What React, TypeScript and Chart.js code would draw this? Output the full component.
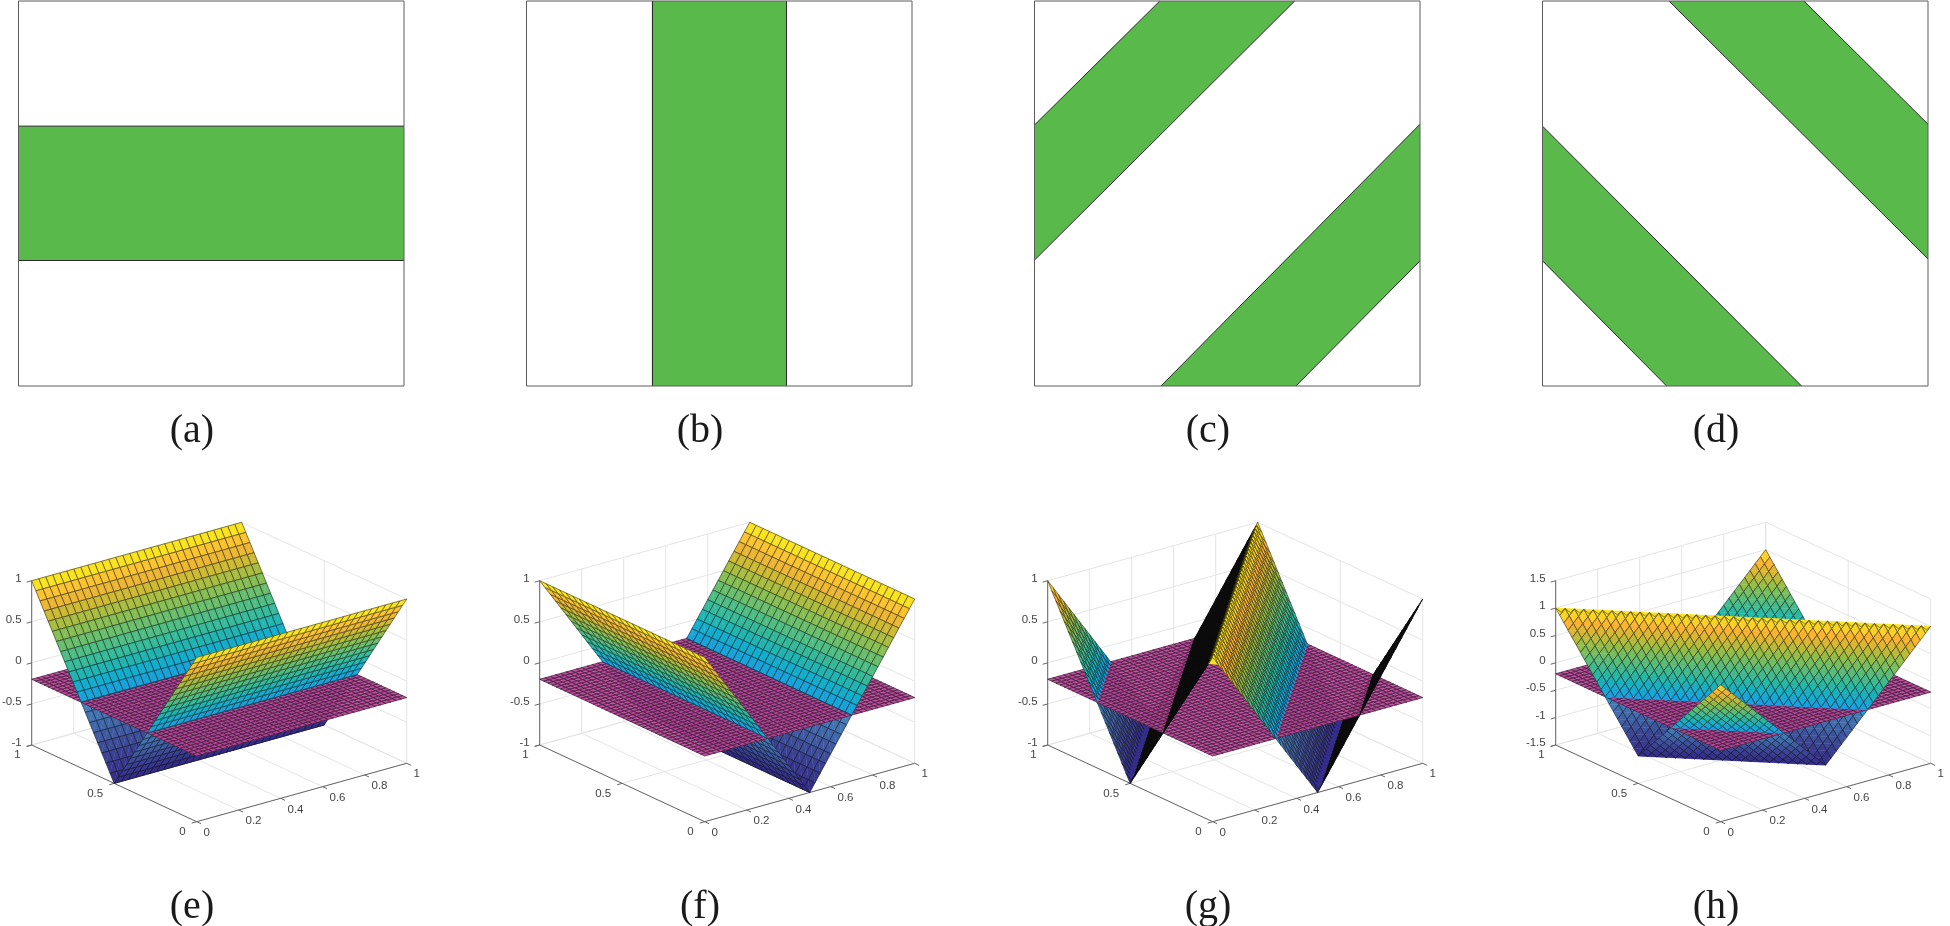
import React, { useEffect, useRef } from "react";
import { Chart, registerables, ScatterController } from "chart.js";

Chart.register(...registerables);

// ---------- data ----------
const panelNamesTop = ["(a)", "(b)", "(c)", "(d)"];
const panelNamesBottom = ["(e)", "(f)", "(g)", "(h)"];

// Green bands of the top row, as corner lists in unit-square coordinates
const bandsA = [[[0, 0.326], [1, 0.326], [1, 0.675], [0, 0.675]]];
const bandsB = [[[0.3268, 0], [0.6744, 0], [0.6744, 1], [0.3268, 1]]];
const bandsC = [
  [[0, 0.327], [0.675, 1], [0.325, 1], [0, 0.678]],
  [[0.328, 0], [0.678, 0], [1, 0.325], [1, 0.68]],
];
const bandsD = [
  [[0, 0.325], [0.322, 0], [0.672, 0], [0, 0.675]],
  [[0.328, 1], [0.678, 1], [1, 0.68], [1, 0.33]],
];

// Meshes of the surfaces in the bottom row
const meshFine = [
  0, 0.025, 0.05, 0.075, 0.1, 0.125, 0.15, 0.175, 0.2, 0.225, 0.25, 0.275, 0.3, 0.325, 0.35, 0.375, 0.4, 0.425, 0.45, 0.475,
  0.5, 0.525, 0.55, 0.575, 0.6, 0.625, 0.65, 0.675, 0.7, 0.725, 0.75, 0.775, 0.8, 0.825, 0.85, 0.875, 0.9, 0.925, 0.95, 0.975, 1,
];
const meshCoarseE = [
  0, 0.0333, 0.0667, 0.1, 0.1333, 0.1667, 0.2, 0.2333, 0.2667, 0.3, 0.3333, 0.3667, 0.4, 0.4333, 0.4667, 0.5,
  0.5333, 0.5667, 0.6, 0.6333, 0.6667, 0.7, 0.7333, 0.7667, 0.8, 0.8333, 0.8667, 0.9, 0.9333, 0.9667, 1,
];
const meshCoarseF = [
  0, 0.04, 0.08, 0.12, 0.16, 0.2, 0.24, 0.28, 0.32, 0.36, 0.4, 0.44, 0.48, 0.52, 0.56, 0.6, 0.64, 0.68, 0.72, 0.76, 0.8, 0.84, 0.88, 0.92, 0.96, 1,
];
// Height along one fold of the surfaces: ridge, valley, ridge
const foldProfile = [
  1, 0.9, 0.8, 0.7, 0.6, 0.5, 0.4, 0.3, 0.2, 0.1, 0, -0.1, -0.2, -0.3, -0.4, -0.5, -0.6, -0.7, -0.8, -0.9,
  -1, -0.9, -0.8, -0.7, -0.6, -0.5, -0.4, -0.3, -0.2, -0.1, 0, 0.1, 0.2, 0.3, 0.4, 0.5, 0.6, 0.7, 0.8, 0.9, 1,
];
const cutLevel = -0.2;

const xTicks = [0, 0.2, 0.4, 0.6, 0.8, 1];
const xTickLabels = ["0", "0.2", "0.4", "0.6", "0.8", "1"];
const yTicks = [0, 0.5, 1];
const yTickLabels = ["0", "0.5", "1"];
const zTicks = [-1, -0.5, 0, 0.5, 1];
const zTickLabels = ["-1", "-0.5", "0", "0.5", "1"];
const zTicksWide = [-1.5, -1, -0.5, 0, 0.5, 1, 1.5];
const zTickLabelsWide = ["-1.5", "-1", "-0.5", "0", "0.5", "1", "1.5"];

// Colour map of the surfaces
const colorLevels = [-1, -0.7, -0.4, -0.21, -0.2, -0.05, 0.1, 0.3, 0.5, 0.65, 0.8, 0.9, 1];
const colorValues = [
  [50, 40, 135], [60, 70, 150], [65, 110, 175], [70, 130, 190], [25, 160, 225], [20, 175, 205], [40, 185, 165],
  [90, 190, 120], [150, 190, 70], [205, 185, 50], [252, 180, 50], [250, 210, 40], [250, 245, 20],
];
const planeColor = "rgb(185,70,155)";
const green = "#59ba4b";

// ---------- view of the 3D box, in canvas px of a bottom cell ----------
const cellStep = 508;
const cellHeight = 463;
const viewOrigin = [196.7, 358.7];
const viewX = [210, -58.4];
const viewY = [-165, -76.7];
const viewZ = 164.3;

function project(x: number, y: number, z: number, zMin: number, zMax: number) {
  const t = (z - zMin) / (zMax - zMin);
  return {
    x: viewOrigin[0] + x * viewX[0] + y * viewY[0],
    y: viewOrigin[1] + x * viewX[1] + y * viewY[1] - t * viewZ,
    w: z,
  };
}

function colorFor(z: number) {
  let k = 0;
  while (k < colorLevels.length - 2 && z > colorLevels[k + 1]) k++;
  const f = Math.max(0, Math.min(1, (z - colorLevels[k]) / (colorLevels[k + 1] - colorLevels[k])));
  const c = colorValues[k].map((v, n) => Math.round(v + (colorValues[k + 1][n] - v) * f));
  return `rgb(${c[0]},${c[1]},${c[2]})`;
}

const meshesX = [meshCoarseE, meshFine, meshFine, meshFine];
const meshesY = [meshFine, meshCoarseF, meshFine, meshFine];
const foldLookups: ((i: number, j: number) => number)[] = [
  (_i, j) => foldProfile[j],
  (i) => foldProfile[i],
  (i, j) => foldProfile[Math.abs(i - j)],
  (i, j) => foldProfile[i + j > 40 ? i + j - 40 : i + j],
];

// ---------- a dataset type that paints a mesh from its scale-positioned points ----------
type V = { x: number; y: number; w: number; noEdge?: boolean };
function clipPoly(p: V[], keepBelow: boolean) {
  const out: V[] = [];
  const inside = (v: V) => (keepBelow ? v.w <= cutLevel : v.w >= cutLevel);
  for (let n = 0; n < p.length; n++) {
    const a = p[n];
    const b = p[(n + 1) % p.length];
    const ia = inside(a);
    const ib = inside(b);
    if (ia) out.push(a);
    if (ia !== ib) {
      const t = (cutLevel - a.w) / (b.w - a.w);
      out.push({ x: a.x + (b.x - a.x) * t, y: a.y + (b.y - a.y) * t, w: cutLevel, noEdge: ia ? true : a.noEdge });
    }
  }
  return out;
}

class SurfaceController extends (ScatterController as any) {
  static id = "surface";
  static defaults = { ...(ScatterController as any).defaults };
  static overrides = (ScatterController as any).overrides;
  draw() {
    const self = this as any;
    const ds = self.getDataset();
    const meta = self._cachedMeta;
    const ctx: CanvasRenderingContext2D = self.chart.ctx;
    const nx = ds.countX;
    const ny = ds.countY;
    const at = (i: number, j: number): V => {
      const k = i * ny + j;
      return { x: meta.data[k].x, y: meta.data[k].y, w: ds.data[k].w };
    };
    const flag = (v: V, noEdge: boolean): V => ({ x: v.x, y: v.y, w: v.w, noEdge });
    ctx.save();
    for (let i = nx - 2; i >= 0; i--) {
      for (let j = ny - 2; j >= 0; j--) {
        const A = at(i, j);
        const B = at(i + 1, j);
        const C = at(i + 1, j + 1);
        const D = at(i, j + 1);
        const mean = (A.w + B.w + C.w + D.w) / 4;
        const tris =
          B.w === D.w
            ? [
                [flag(B, false), flag(C, false), flag(D, true)],
                [flag(A, false), flag(B, true), flag(D, false)],
              ]
            : [
                [flag(A, true), flag(C, false), flag(D, false)],
                [flag(A, false), flag(B, false), flag(C, true)],
              ];
        const polys = tris
          .map((t) => (ds.part === "all" ? t : clipPoly(t, ds.part === "below")))
          .filter((p) => p.length >= 3);
        if (!polys.length) continue;
        const area = Math.abs((B.x - A.x) * (D.y - A.y) - (B.y - A.y) * (D.x - A.x));
        const face = area < 10 ? "#0a0a0a" : ds.part === "all" ? ds.faceColor : colorFor(mean);
        ctx.fillStyle = face;
        ctx.strokeStyle = face;
        ctx.lineWidth = 0.4;
        for (const poly of polys) {
          ctx.beginPath();
          poly.forEach((v, m) => (m ? ctx.lineTo(v.x, v.y) : ctx.moveTo(v.x, v.y)));
          ctx.closePath();
          ctx.fill();
          ctx.stroke();
        }
        ctx.lineWidth = ds.edgeWidth;
        ctx.strokeStyle = ds.edgeColor;
        ctx.beginPath();
        for (const poly of polys) {
          for (let m = 0; m < poly.length; m++) {
            const a = poly[m];
            const b = poly[(m + 1) % poly.length];
            if (a.noEdge) continue;
            ctx.moveTo(a.x, a.y);
            ctx.lineTo(b.x, b.y);
          }
        }
        ctx.stroke();
      }
    }
    ctx.restore();
  }
}
Chart.register(SurfaceController as any);

// ---------- text drawn at scale positions ----------
const textPlugin = {
  id: "scaleText",
  afterDraw(chart: any, _args: any, opts: any) {
    const { ctx } = chart;
    ctx.save();
    for (const t of opts.items || []) {
      ctx.font = t.font;
      ctx.fillStyle = t.color;
      ctx.textAlign = t.align;
      ctx.textBaseline = "middle";
      ctx.fillText(t.text, chart.scales.x.getPixelForValue(t.x) + (t.dx || 0), chart.scales.y.getPixelForValue(t.y) + (t.dy || 0));
    }
    ctx.restore();
  },
};

const GAP = { x: NaN, y: NaN };
const lineSet = (data: any[], color: string, width: number, order: number) => ({
  type: "scatter",
  data,
  showLine: true,
  pointRadius: 0,
  borderColor: color,
  borderWidth: width,
  fill: false,
  spanGaps: false,
  clip: false,
  order,
});

const captionFont = '40px "Liberation Serif"';
const tickFont = '11.5px "Liberation Sans"';
const tickColor = "#454545";

function topConfig(bands: number[][][], name: string, width: number) {
  const fills = bands.map((b) => ({
    type: "scatter",
    data: b.map(([x, y]) => ({ x, y })).concat([{ x: b[0][0], y: b[0][1] }]),
    showLine: true,
    pointRadius: 0,
    borderWidth: 0,
    borderColor: green,
    backgroundColor: green,
    fill: "shape",
    order: 3,
  }));
  // the two long edges of every band are the polygon sides that cross the square
  const edges: any[] = [];
  bands.forEach((b) => {
    const crossing = [0, 1, 2, 3].filter((k) => {
      const p = b[k];
      const q = b[(k + 1) % 4];
      return !((p[0] === q[0] && (p[0] === 0 || p[0] === 1)) || (p[1] === q[1] && (p[1] === 0 || p[1] === 1)));
    });
    crossing.forEach((k) => {
      edges.push({ x: b[k][0], y: b[k][1] }, { x: b[(k + 1) % 4][0], y: b[(k + 1) % 4][1] }, GAP);
    });
  });
  const frame = [{ x: 0, y: 0 }, { x: 1, y: 0 }, { x: 1, y: 1 }, { x: 0, y: 1 }, { x: 0, y: 0 }];
  return {
    type: "scatter",
    data: {
      datasets: [...fills, lineSet(edges, "#2a2a2a", 1, 2), lineSet(frame, "#5c5c5c", 1, 1)],
    },
    options: {
      responsive: false,
      animation: false,
      devicePixelRatio: 1,
      layout: { padding: { left: 18.5, right: width - 404, top: 1, bottom: cellHeight - 386 } },
      scales: {
        x: { type: "linear", display: false, min: 0, max: 1 },
        y: { type: "linear", display: false, min: 0, max: 1 },
      },
      plugins: {
        legend: { display: false },
        tooltip: { enabled: false },
        scaleText: { items: [{ x: 0.45, y: -0.119, text: name, font: captionFont, color: "#1a1a1a", align: "center" }] },
      },
    },
    plugins: [textPlugin],
  };
}

function bottomConfig(panel: number, name: string, width: number) {
  const wide = panel === 3;
  const zt = wide ? zTicksWide : zTicks;
  const ztl = wide ? zTickLabelsWide : zTickLabels;
  const zMin = zt[0];
  const zMax = zt[zt.length - 1];
  const P = (x: number, y: number, z: number) => project(x, y, z, zMin, zMax);
  const grid: any[] = [];
  const seg = (a: any, b: any, store: any[]) => store.push({ x: a.x, y: a.y }, { x: b.x, y: b.y }, GAP);
  xTicks.forEach((t) => {
    seg(P(t, 1, zMin), P(t, 1, zMax), grid);
    seg(P(t, 0, zMin), P(t, 1, zMin), grid);
  });
  yTicks.forEach((t) => {
    seg(P(1, t, zMin), P(1, t, zMax), grid);
    seg(P(0, t, zMin), P(1, t, zMin), grid);
  });
  zt.forEach((t) => {
    seg(P(0, 1, t), P(1, 1, t), grid);
    seg(P(1, 1, t), P(1, 0, t), grid);
  });
  const axes: any[] = [];
  seg(P(0, 0, zMin), P(1, 0, zMin), axes);
  seg(P(0, 0, zMin), P(0, 1, zMin), axes);
  seg(P(0, 1, zMin), P(0, 1, zMax), axes);
  const items: any[] = [];
  xTicks.forEach((t, k) => {
    const a = P(t, 0, zMin);
    seg(a, P(t, -0.026, zMin), axes);
    items.push({ x: a.x, y: a.y, dx: 6.8, dy: 11, text: xTickLabels[k], font: tickFont, color: tickColor, align: "left" });
  });
  yTicks.forEach((t, k) => {
    const a = P(0, t, zMin);
    seg(a, P(-0.024, t, zMin), axes);
    items.push({ x: a.x, y: a.y, dx: -11, dy: 10, text: yTickLabels[k], font: tickFont, color: tickColor, align: "right" });
  });
  zt.forEach((t, k) => {
    const a = P(0, 1, t);
    seg(a, P(-0.024, 1, t), axes);
    items.push({ x: a.x, y: a.y, dx: -10, dy: -2, text: ztl[k], font: tickFont, color: tickColor, align: "right" });
  });
  items.push({ x: 192, y: 444, text: name, font: captionFont, color: "#1a1a1a", align: "center" });

  const mx = meshesX[panel];
  const my = meshesY[panel];
  const surfacePoints: any[] = [];
  mx.forEach((x, i) => my.forEach((y, j) => surfacePoints.push(P(x, y, foldLookups[panel](i, j)))));
  const planePoints: any[] = [];
  meshFine.forEach((x) => meshFine.forEach((y) => planePoints.push(P(x, y, cutLevel))));
  const edge = { edgeColor: "rgba(15,15,15,0.72)", edgeWidth: 0.7, pointRadius: 0, clip: false };
  const shape = { countX: mx.length, countY: my.length };
  const planeShape = { countX: meshFine.length, countY: meshFine.length };
  return {
    type: "scatter",
    data: {
      datasets: [
        lineSet(grid, "#e4e4e4", 1, 6),
        lineSet(axes, "#666666", 1, 5),
        { type: "surface", data: surfacePoints, part: "below", order: 3, ...edge, ...shape },
        { type: "surface", data: planePoints, part: "all", faceColor: planeColor, order: 2, ...edge, ...planeShape },
        { type: "surface", data: surfacePoints, part: "above", order: 1, ...edge, ...shape },
      ],
    },
    options: {
      responsive: false,
      animation: false,
      devicePixelRatio: 1,
      layout: { padding: 0 },
      scales: {
        x: { type: "linear", display: false, min: 0, max: width },
        y: { type: "linear", display: false, min: 0, max: cellHeight, reverse: true },
      },
      plugins: { legend: { display: false }, tooltip: { enabled: false }, scaleText: { items } },
    },
    plugins: [textPlugin],
  };
}

const allBands = [bandsA, bandsB, bandsC, bandsD];
const cellWidths = [508, 508, 508, 426];

export default function App() {
  const refs = useRef<(HTMLCanvasElement | null)[]>([]);
  useEffect(() => {
    const charts: Chart[] = [];
    cellWidths.forEach((w, k) => {
      charts.push(new Chart(refs.current[k]!, topConfig(allBands[k], panelNamesTop[k], w) as any));
      charts.push(new Chart(refs.current[k + 4]!, bottomConfig(k, panelNamesBottom[k], w) as any));
    });
    return () => charts.forEach((c) => c.destroy());
  }, []);
  const canvas = (k: number, row: number, col: number) => (
    <canvas
      key={k}
      ref={(el) => {
        refs.current[k] = el;
      }}
      width={cellWidths[col]}
      height={cellHeight}
      style={{ position: "absolute", left: col * cellStep, top: row * cellHeight, width: cellWidths[col], height: cellHeight }}
    />
  );
  return (
    <div style={{ position: "absolute", left: 0, top: 0, width: 1950, height: 926, background: "#fff", overflow: "hidden" }}>
      {cellWidths.map((_, c) => canvas(c, 0, c))}
      {cellWidths.map((_, c) => canvas(c + 4, 1, c))}
    </div>
  );
}
